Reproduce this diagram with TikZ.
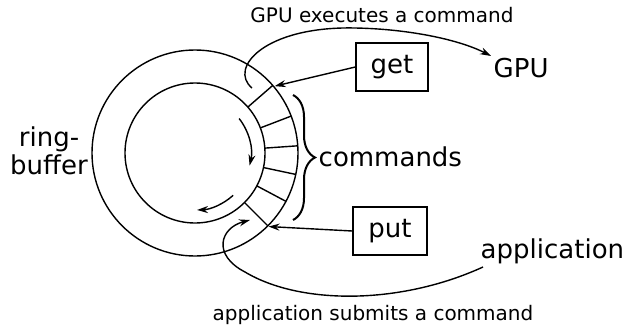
\documentclass[tikz,border=0pt]{standalone}
\usepackage{fontspec}
\setmainfont{DejaVu Sans}
\usetikzlibrary{arrows.meta,decorations.pathreplacing,calc}
\tikzset{
  big/.style={font=\fontsize{26}{28}\selectfont, inner sep=0pt},
  small/.style={font=\fontsize{20}{24}\selectfont, inner sep=0pt},
  ptr/.style={draw, line width=1.4pt, minimum height=48pt, inner sep=0pt, font=\fontsize{26}{28}\selectfont},
  conn/.style={->, line width=1.4pt},
}
\begin{document}
\begin{tikzpicture}[x=1pt,y=-1pt, line width=1.4pt, >={Stealth[length=11pt,width=7pt]}]
\useasboundingbox (0,0) rectangle (628,329);
\coordinate (c) at (195,153);
\draw (c) circle[radius=103pt];
\draw (c) circle[radius=70pt];
\foreach \a in {41,21,4,-12,-28,-45}
  \draw ($(c)+(\a:70pt)$) -- ($(c)+(\a:103pt)$);
% arrows inside
\draw[conn] ($(c)+(38:56pt)$) arc[start angle=38, end angle=-13, radius=56pt];
\draw[conn] ($(c)+(-48:57pt)$) arc[start angle=-48, end angle=-88, radius=57pt];
% labels
\node[big, align=center] (rb) at (49,151) {ring-\\buffer};
\node[ptr, minimum width=72pt] (get) at (392,67) {get};
\node[ptr, minimum width=74pt] (put) at (390,231) {put};
\node[big, anchor=base west] (gpu) at (493,77) {GPU};
\node[big, anchor=base west] (app) at (480,258) {application};
\node[big, anchor=west] (cmd) at (318,157) {commands};
\node[small, anchor=base] (gpulbl) at (382,23) {GPU executes a command};
\node[small, anchor=base] (applbl) at (373,320) {application submits a command};
% pointers
\coordinate (gettip) at ($(c)+(40:104pt)$);
\coordinate (puttip) at ($(c)+(-45:104pt)$);
\draw[conn] (get.west) -- (gettip);
\draw[conn] (put.west) -- (puttip);
% brace
\coordinate (bt) at (293,95);
\coordinate (bb) at (293,220);
\draw[decorate, decoration={brace, amplitude=22pt, aspect=0.5}, line width=2pt] (bt) -- (bb);
% GPU curve
\coordinate (gpustart) at (252,88);
\coordinate (gpuin) at (491,56);
\draw[conn] (gpustart) .. controls (228,68) and (265,26) .. (355,28)
  .. controls (410,29) and (460,40) .. (gpuin);
% application curve
\coordinate (appstart) at (483,267);
\coordinate (apptip) at (250,220);
\draw[conn] (appstart) .. controls (400,305) and (300,305) .. (245,272)
  .. controls (212,255) and (220,228) .. (apptip);
\end{tikzpicture}
\end{document}
